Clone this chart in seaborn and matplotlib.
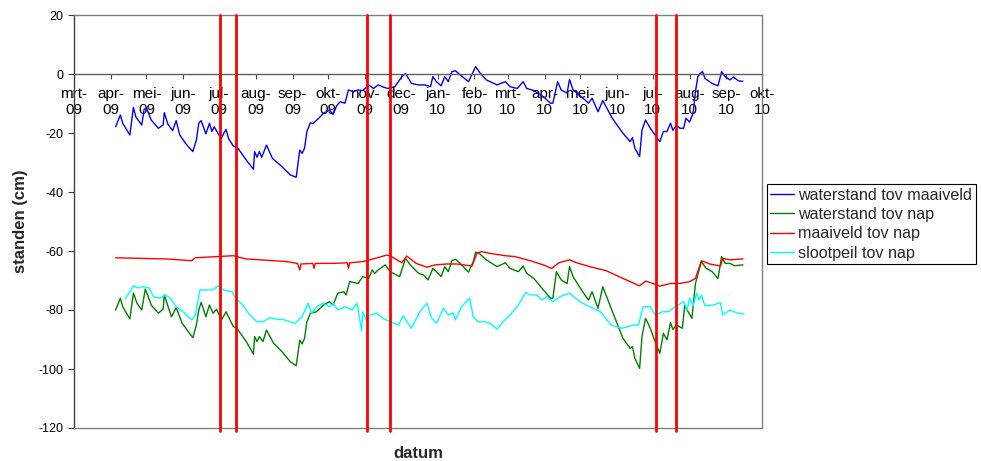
import matplotlib
matplotlib.use("Agg")
import matplotlib.pyplot as plt
import pandas as pd
import seaborn as sns

# Meetreeksen: dagen na 1 maart 2009 en stand in cm
START = pd.Timestamp("2009-03-01")

wm_dag = [35, 39, 41, 47, 50, 52, 57, 59, 61, 65, 71, 75, 76, 79, 83, 86, 89, 95, 100, 103,
          105, 107, 111, 114, 116, 118, 122, 124, 126, 128, 130, 134, 138, 145, 151, 152, 154, 156, 158, 162,
          167, 175, 182, 187, 190, 192, 194, 196, 199, 201, 206, 210, 215, 218, 221, 224, 228, 231, 235, 239,
          243, 248, 252, 256, 260, 264, 270, 276, 279, 284, 290, 295, 300, 302, 305, 309, 312, 315, 318, 321,
          325, 332, 336, 338, 342, 347, 356, 363, 367, 373, 378, 381, 387, 395, 401, 403, 407, 410, 415, 417,
          420, 427, 433, 436, 441, 445, 453, 462, 468, 470, 472, 476, 478, 481, 485, 489, 493, 496, 499, 502,
          504, 507, 510, 513, 515, 518, 521, 523, 525, 527, 529, 531, 537, 542, 545, 548, 552, 555, 559, 563]
wm_cm = [-17.9, -13.9, -16.7, -20.7, -11.3, -14.5, -17.3, -12.0, -11.5, -15.6, -18.4, -17.3, -13.1, -17.0, -19.2, -15.8, -20.7, -24.1, -26.3, -22.4,
         -16.7, -15.8, -20.3, -16.7, -19.5, -17.9, -20.7, -21.8, -20.1, -18.8, -21.8, -24.4, -25.2, -29.2, -32.3, -26.3, -28.2, -26.3, -28.2, -24.1,
         -28.6, -31.4, -34.2, -35.0, -25.8, -26.9, -25.2, -19.5, -16.5, -16.8, -15.0, -13.3, -12.2, -13.7, -10.8, -9.4, -9.9, -5.4, -6.0, -5.4,
         -5.6, -3.7, -4.9, -3.7, -4.4, -4.9, -4.3, -0.9, 0.2, -3.2, -3.7, -3.7, -4.3, -0.9, -2.6, -4.0, -0.9, -2.6, 0.8, 1.1,
         -0.3, -2.6, 0.8, 2.5, 0.2, -2.0, -3.7, -2.6, -4.3, -4.9, -2.6, -4.9, -5.6, -7.7, -9.9, -9.9, -2.6, -5.4, -6.5, -1.8,
         -5.4, -7.7, -9.9, -8.2, -12.8, -9.0, -15.0, -20.1, -22.9, -21.6, -25.2, -28.0, -19.0, -15.6, -18.4, -20.7, -22.9, -19.5, -19.5, -16.7,
         -19.1, -17.3, -18.4, -18.4, -15.0, -16.3, -13.3, -6.0, -0.9, 0.2, 0.8, -1.5, -3.2, -4.0, 0.8, -0.9, -2.0, -1.0, -2.3, -2.5]

wn_dag = [35, 39, 41, 47, 50, 53, 57, 60, 65, 71, 75, 76, 82, 86, 91, 100, 103, 105, 107, 111,
          114, 117, 120, 124, 128, 134, 137, 145, 151, 152, 154, 156, 159, 162, 168, 175, 182, 187, 190, 192,
          194, 196, 199, 204, 210, 215, 218, 222, 227, 229, 232, 239, 243, 248, 251, 253, 256, 262, 266, 274,
          279, 283, 290, 294, 298, 302, 305, 309, 312, 315, 318, 321, 325, 332, 336, 338, 341, 347, 356, 363,
          367, 374, 378, 381, 387, 395, 401, 403, 406, 410, 415, 417, 420, 428, 433, 436, 441, 445, 452, 462,
          468, 470, 472, 476, 478, 481, 485, 489, 493, 496, 499, 502, 504, 507, 512, 514, 516, 520, 523, 528,
          532, 537, 542, 545, 548, 552, 556, 563]
wn_cm = [-80.0, -76.0, -78.9, -83.0, -74.3, -77.7, -80.0, -72.9, -78.3, -81.1, -79.7, -74.9, -82.3, -79.2, -84.5, -89.4, -85.1, -80.0, -77.4, -82.3,
         -78.3, -81.1, -79.7, -83.4, -80.6, -85.6, -86.2, -90.7, -95.0, -89.0, -90.7, -89.0, -90.7, -86.8, -91.3, -94.1, -97.5, -98.9, -90.2, -91.5,
         -89.6, -84.0, -81.1, -80.6, -78.3, -77.2, -78.3, -74.3, -73.8, -74.9, -70.4, -71.0, -68.7, -69.3, -66.4, -67.6, -66.4, -64.7, -67.0, -68.7,
         -62.5, -64.7, -67.6, -68.1, -69.8, -65.9, -67.0, -68.7, -65.3, -67.0, -63.3, -62.8, -64.2, -67.2, -63.6, -60.4, -60.8, -63.0, -65.3, -64.0,
         -65.9, -67.0, -65.1, -67.6, -69.3, -73.2, -76.0, -76.0, -67.0, -69.8, -71.0, -65.3, -68.7, -73.8, -76.6, -73.8, -79.4, -72.1, -79.4, -89.6,
         -93.0, -92.4, -96.4, -99.8, -89.0, -82.8, -86.2, -90.7, -94.7, -87.9, -90.1, -84.3, -86.6, -85.1, -86.2, -78.3, -80.0, -82.8, -71.0, -63.6,
         -65.9, -67.0, -69.3, -61.9, -64.2, -64.2, -65.0, -64.7]

mv_dag = [35, 78, 99, 102, 134, 145, 157, 179, 188, 190, 191, 201, 202, 203, 218, 230, 231, 232, 243, 249,
          263, 266, 276, 280, 288, 297, 304, 314, 322, 335, 339, 343, 350, 363, 371, 384, 395, 402, 408, 417,
          423, 434, 448, 462, 476, 481, 485, 493, 502, 510, 518, 523, 528, 535, 544, 546, 552, 563]
mv_cm = [-62.3, -62.7, -63.3, -62.3, -61.6, -62.7, -63.0, -63.6, -64.2, -66.4, -64.4, -64.2, -65.9, -64.2, -64.2, -64.0, -65.9, -64.0, -63.6, -63.0,
         -61.4, -61.6, -64.0, -61.7, -64.2, -65.5, -64.7, -64.4, -64.4, -65.1, -60.8, -60.2, -60.8, -61.6, -61.9, -63.3, -64.7, -65.9, -64.0, -63.0,
         -64.0, -65.3, -66.7, -69.3, -71.8, -70.2, -70.7, -71.9, -71.0, -71.0, -70.4, -69.3, -63.3, -64.4, -65.1, -62.5, -63.0, -62.7]

sp_dag = [43, 50, 54, 58, 63, 67, 72, 77, 81, 86, 92, 99, 102, 106, 112, 117, 121, 126, 133, 136,
          142, 148, 154, 159, 165, 171, 176, 182, 186, 192, 197, 200, 204, 210, 215, 218, 222, 228, 234, 238,
          239, 242, 243, 246, 249, 255, 260, 266, 273, 277, 284, 291, 297, 301, 305, 311, 315, 319, 321, 326,
          333, 336, 340, 346, 350, 356, 361, 367, 374, 380, 384, 389, 394, 398, 403, 409, 417, 426, 434, 443,
          452, 461, 471, 475, 479, 485, 489, 495, 500, 507, 513, 516, 518, 521, 524, 526, 528, 531, 538, 544,
          546, 552, 558, 564]
sp_cm = [-76.3, -71.8, -72.5, -72.1, -72.5, -75.5, -76.0, -74.9, -76.0, -78.9, -80.6, -83.4, -81.7, -73.2, -73.2, -73.2, -71.8, -73.2, -73.8, -76.0,
         -78.3, -81.7, -84.0, -84.0, -82.6, -83.2, -83.2, -84.0, -84.5, -82.3, -77.7, -81.1, -78.9, -77.7, -78.9, -77.7, -80.0, -78.9, -80.0, -77.7,
         -79.4, -87.1, -80.6, -83.4, -81.7, -81.1, -82.8, -84.0, -85.1, -82.0, -86.2, -80.6, -77.7, -82.8, -84.5, -79.4, -81.7, -81.0, -83.4, -78.9,
         -76.0, -82.3, -84.0, -84.0, -84.5, -86.5, -84.0, -81.7, -78.3, -74.1, -74.9, -74.9, -76.6, -75.5, -77.2, -75.5, -74.3, -77.2, -78.9, -80.6,
         -85.1, -86.2, -85.1, -85.1, -78.9, -78.9, -81.7, -80.6, -80.6, -78.6, -77.2, -80.0, -76.0, -78.6, -74.3, -76.6, -75.0, -78.6, -78.3, -77.5,
         -81.7, -80.0, -81.0, -81.4]

reeksen = ["waterstand tov maaiveld", "waterstand tov nap", "maaiveld tov nap", "slootpeil tov nap"]
kleuren = ["#0000ff", "#008000", "#ff0000", "#00ffff"]

# Markeringen (verticale lijnen)
markering = ["2009-07-02", "2009-07-15", "2009-11-03", "2009-11-22", "2010-07-04", "2010-07-21"]

maanden = ["mrt", "apr", "mei", "jun", "jul", "aug", "sep", "okt", "nov", "dec",
           "jan", "feb", "mrt", "apr", "mei", "jun", "jul", "aug", "sep", "okt"]
jaren = ["09"] * 10 + ["10"] * 10

frames = []
for naam, dagen, cm in zip(reeksen, [wm_dag, wn_dag, mv_dag, sp_dag], [wm_cm, wn_cm, mv_cm, sp_cm]):
    frames.append(pd.DataFrame({
        "datum": START + pd.to_timedelta(dagen, unit="D"),
        "stand": cm,
        "reeks": naam,
    }))
df = pd.concat(frames, ignore_index=True)

sns.set_theme(style="white")
plt.rcParams["font.family"] = ["Liberation Sans", "DejaVu Sans"]
plt.rcParams["axes.unicode_minus"] = False

fig = plt.figure(figsize=(9.81, 4.61), dpi=100)
ax = fig.add_axes([74 / 981, 33 / 461, 688 / 981, 413 / 461])

sns.lineplot(data=df, x="datum", y="stand", hue="reeks", hue_order=reeksen,
             palette=kleuren, estimator=None, sort=False, linewidth=1.0, ax=ax)

for d in markering:
    ax.axvline(pd.Timestamp(d), ymin=-0.008, ymax=1, color="#ff0000", lw=2.0,
               zorder=5, clip_on=False)

# x-as op de nullijn, maandlabels eronder
maand_start = pd.date_range("2009-03-01", "2010-10-01", freq="MS")
ax.set_xlim(maand_start[0], maand_start[-1])
ax.set_xticks(maand_start)
ax.set_xticklabels([f"{m}-\n{j}" for m, j in zip(maanden, jaren)], fontsize=9, linespacing=1.1)
ax.set_ylim(-120, 20)
ax.set_yticks(range(-120, 21, 20))
ax.tick_params(axis="y", labelsize=9, left=True, direction="out", length=4.3, width=0.8,
               pad=3.5, color="#404040", labelcolor="#000000")
ax.tick_params(axis="x", bottom=True, direction="out", length=3.5, width=0.8,
               pad=6, color="#505050", labelcolor="#000000")

ax.spines["bottom"].set_position(("data", 0))
ax.spines["bottom"].set_color("#606060")
ax.spines["bottom"].set_linewidth(1.0)
ax.spines["left"].set_color("#404040")
ax.spines["left"].set_linewidth(1.0)
for s in ("top", "right"):
    ax.spines[s].set_color("#808080")
    ax.spines[s].set_linewidth(1.0)
ax.axhline(-120, color="#808080", lw=1.0, clip_on=False, zorder=4)

ax.set_ylabel("standen (cm)", fontsize=12, fontweight="bold")
ax.yaxis.set_label_coords(-0.067, 0.5)
ax.set_xlabel("datum", fontsize=12, fontweight="bold")
ax.xaxis.set_label_coords(0.5, -0.044)

leg = ax.get_legend()
handles = leg.legend_handles
labels = [t.get_text() for t in leg.get_texts()]
leg.remove()
for h in handles:
    h.set_linewidth(1.0)
ax.legend(handles, labels, loc="upper left", bbox_to_anchor=(766.5 / 981, 1 - 184 / 461),
          bbox_transform=fig.transFigure, borderaxespad=0, frameon=True, fancybox=False,
          edgecolor="#000000", framealpha=1, fontsize=11.6, handlelength=1.5,
          handletextpad=0.25, labelspacing=0.27, borderpad=0.22)
ax.get_legend().get_frame().set_linewidth(0.8)

fig.savefig("out.png", dpi=100)
